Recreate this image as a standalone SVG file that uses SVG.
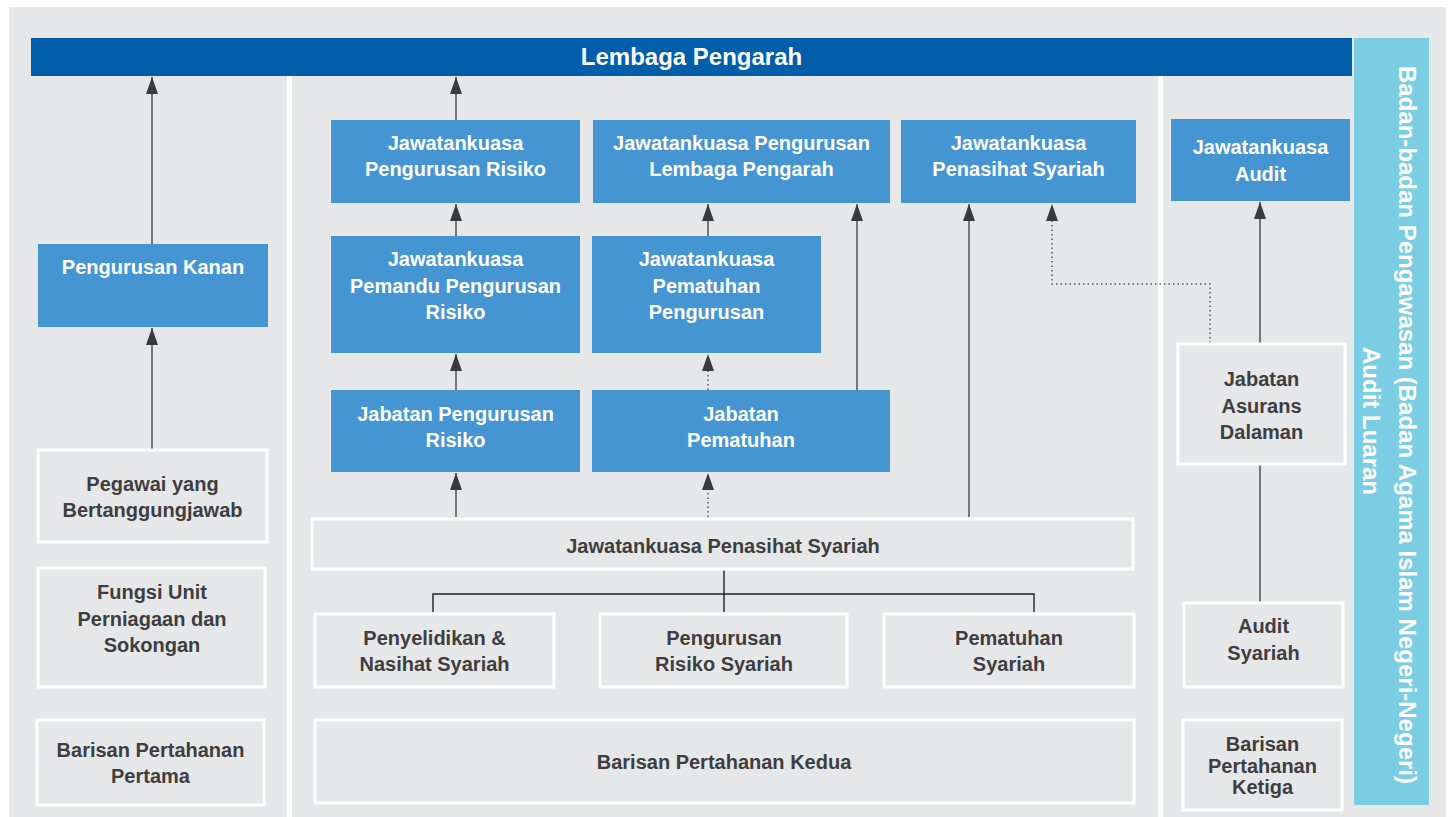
<svg xmlns="http://www.w3.org/2000/svg" width="1453" height="817" viewBox="0 0 1453 817">
<style>
.bg{fill:#E6E7E9}
.blue{fill:#4595D3}
.wbox{fill:#E6E7E9;stroke:#FFFFFF;stroke-width:3}
.tw{font-family:"Liberation Sans",Arial,sans-serif;font-weight:bold;font-size:20px;fill:#FFFFFF;text-anchor:middle}
.td{font-family:"Liberation Sans",Arial,sans-serif;font-weight:bold;font-size:20px;fill:#3E3E40;text-anchor:middle}
.arr{stroke:#5A5A5C;stroke-width:1.6;fill:none;marker-end:url(#ah)}
.dot{stroke:#5A5A5C;stroke-width:1.5;fill:none;stroke-dasharray:1.5 3}
.dota{stroke:#5A5A5C;stroke-width:1.5;fill:none;stroke-dasharray:1.5 3;marker-end:url(#ah)}
.ln{stroke:#5A5A5C;stroke-width:1.6;fill:none}
.tree{stroke:#222222;stroke-width:1.4;fill:none}
.sep{stroke:#FFFFFF;stroke-width:5}
.vt{font-family:"Liberation Sans",Arial,sans-serif;font-weight:bold;font-size:24px;fill:#FFFFFF}
</style>
<defs>
<marker id="ah" markerUnits="userSpaceOnUse" markerWidth="17" markerHeight="12" viewBox="0 0 17 12" refX="17" refY="6" orient="auto">
<path d="M0,0 L17,6 L0,12 z" fill="#3A3A3C"/>
</marker>
</defs>
<rect x="0" y="0" width="1453" height="817" fill="#FFFFFF"/>
<rect class="bg" x="9" y="7" width="1437" height="810"/>
<line class="sep" x1="289.5" y1="76" x2="289.5" y2="817"/>
<line class="sep" x1="1160.5" y1="76" x2="1160.5" y2="817"/>

<g id="lembaga-pengarah">
<rect x="31" y="38" width="1321" height="38" fill="#005EAB"/>
<text x="691.5" y="65" font-family="Liberation Sans,Arial,sans-serif" font-weight="bold" font-size="24" fill="#FFFFFF" text-anchor="middle">Lembaga Pengarah</text>
</g>

<g id="badan-pengawasan">
<rect x="1354" y="38" width="75" height="767" fill="#7ACDE2"/>
<text class="vt" transform="translate(1399,66) rotate(90)" font-size="23.6">Badan-badan Pengawasan (Badan Agama Islam Negeri-Negeri)</text>
<text class="vt" transform="translate(1363,347) rotate(90)">Audit Luaran</text>
</g>

<g id="connectors">
<line class="arr" x1="152" y1="244" x2="152" y2="77"/>
<line class="arr" x1="152" y1="449" x2="152" y2="328"/>
<line class="arr" x1="456" y1="120" x2="456" y2="77"/>
<line class="arr" x1="456" y1="236" x2="456" y2="204"/>
<line class="arr" x1="456" y1="390" x2="456" y2="354"/>
<line class="arr" x1="456" y1="517" x2="456" y2="473"/>
<line class="arr" x1="708" y1="236" x2="708" y2="204"/>
<line class="dota" x1="708" y1="390" x2="708" y2="354"/>
<line class="dota" x1="708" y1="517" x2="708" y2="473"/>
<line class="arr" x1="857" y1="390" x2="857" y2="204"/>
<line class="arr" x1="969" y1="517" x2="969" y2="204"/>
<polyline class="dot" points="1210,343 1210,284 1052,284 1052,220"/>
<line class="arr" x1="1052" y1="222" x2="1052" y2="204" style="stroke:none"/>
<line class="arr" x1="1260" y1="343" x2="1260" y2="202"/>
<line class="ln" x1="1260" y1="465" x2="1260" y2="602"/>
<polyline class="tree" points="724,570 724,612"/>
<polyline class="tree" points="433,612 433,594 1034,594 1034,612"/>
</g>

<g id="jk-pengurusan-risiko">
<rect class="blue" x="331" y="120" width="249" height="83"/>
<text class="tw" x="455.5" y="150">Jawatankuasa</text>
<text class="tw" x="455.5" y="176">Pengurusan Risiko</text>
</g>
<g id="jk-pengurusan-lembaga">
<rect class="blue" x="593" y="120" width="297" height="83"/>
<text class="tw" x="741.5" y="150">Jawatankuasa Pengurusan</text>
<text class="tw" x="741.5" y="176">Lembaga Pengarah</text>
</g>
<g id="jk-penasihat-syariah-blue">
<rect class="blue" x="901" y="120" width="235" height="83"/>
<text class="tw" x="1018.5" y="150">Jawatankuasa</text>
<text class="tw" x="1018.5" y="176">Penasihat Syariah</text>
</g>
<g id="jk-audit">
<rect class="blue" x="1171" y="119" width="179" height="82"/>
<text class="tw" x="1260.5" y="154">Jawatankuasa</text>
<text class="tw" x="1260.5" y="181">Audit</text>
</g>
<g id="pengurusan-kanan">
<rect class="blue" x="38" y="244" width="230" height="83"/>
<text class="tw" x="153" y="274">Pengurusan Kanan</text>
</g>
<g id="jk-pemandu">
<rect class="blue" x="331" y="236" width="249" height="117"/>
<text class="tw" x="455.5" y="266">Jawatankuasa</text>
<text class="tw" x="455.5" y="293">Pemandu Pengurusan</text>
<text class="tw" x="455.5" y="319">Risiko</text>
</g>
<g id="jk-pematuhan">
<rect class="blue" x="592" y="236" width="229" height="117"/>
<text class="tw" x="706.5" y="266">Jawatankuasa</text>
<text class="tw" x="706.5" y="293">Pematuhan</text>
<text class="tw" x="706.5" y="319">Pengurusan</text>
</g>
<g id="jabatan-pengurusan-risiko">
<rect class="blue" x="331" y="390" width="249" height="82"/>
<text class="tw" x="455.5" y="421">Jabatan Pengurusan</text>
<text class="tw" x="455.5" y="447">Risiko</text>
</g>
<g id="jabatan-pematuhan">
<rect class="blue" x="592" y="390" width="298" height="82"/>
<text class="tw" x="741" y="421">Jabatan</text>
<text class="tw" x="741" y="447">Pematuhan</text>
</g>

<g id="pegawai">
<rect class="wbox" x="38" y="450" width="229" height="92"/>
<text class="td" x="152.5" y="491">Pegawai yang</text>
<text class="td" x="152.5" y="517">Bertanggungjawab</text>
</g>
<g id="fungsi-unit">
<rect class="wbox" x="38" y="568" width="227" height="119"/>
<text class="td" x="152" y="599">Fungsi Unit</text>
<text class="td" x="152" y="626">Perniagaan dan</text>
<text class="td" x="152" y="652">Sokongan</text>
</g>
<g id="barisan-pertama">
<rect class="wbox" x="37" y="720" width="227" height="85"/>
<text class="td" x="150.5" y="757">Barisan Pertahanan</text>
<text class="td" x="150.5" y="783">Pertama</text>
</g>

<g id="jk-penasihat-syariah">
<rect class="wbox" x="312" y="519" width="821" height="50"/>
<text class="td" x="723" y="553">Jawatankuasa Penasihat Syariah</text>
</g>
<g id="penyelidikan">
<rect class="wbox" x="315" y="614" width="239" height="73"/>
<text class="td" x="434.5" y="645">Penyelidikan &amp;</text>
<text class="td" x="434.5" y="671">Nasihat Syariah</text>
</g>
<g id="pengurusan-risiko-syariah">
<rect class="wbox" x="600" y="614" width="247" height="73"/>
<text class="td" x="724" y="645">Pengurusan</text>
<text class="td" x="724" y="671">Risiko Syariah</text>
</g>
<g id="pematuhan-syariah">
<rect class="wbox" x="884" y="614" width="250" height="73"/>
<text class="td" x="1009" y="645">Pematuhan</text>
<text class="td" x="1009" y="671">Syariah</text>
</g>
<g id="barisan-kedua">
<rect class="wbox" x="315" y="720" width="819" height="83"/>
<text class="td" x="724" y="769">Barisan Pertahanan Kedua</text>
</g>

<g id="jabatan-asurans">
<rect class="wbox" x="1178" y="344" width="167" height="120"/>
<text class="td" x="1261.5" y="386">Jabatan</text>
<text class="td" x="1261.5" y="413">Asurans</text>
<text class="td" x="1261.5" y="439">Dalaman</text>
</g>
<g id="audit-syariah">
<rect class="wbox" x="1184" y="603" width="159" height="84"/>
<text class="td" x="1263.5" y="633">Audit</text>
<text class="td" x="1263.5" y="660">Syariah</text>
</g>
<g id="barisan-ketiga">
<rect class="wbox" x="1183" y="720" width="159" height="90"/>
<text class="td" x="1262.5" y="751">Barisan</text>
<text class="td" x="1262.5" y="773">Pertahanan</text>
<text class="td" x="1262.5" y="794">Ketiga</text>
</g>
</svg>
